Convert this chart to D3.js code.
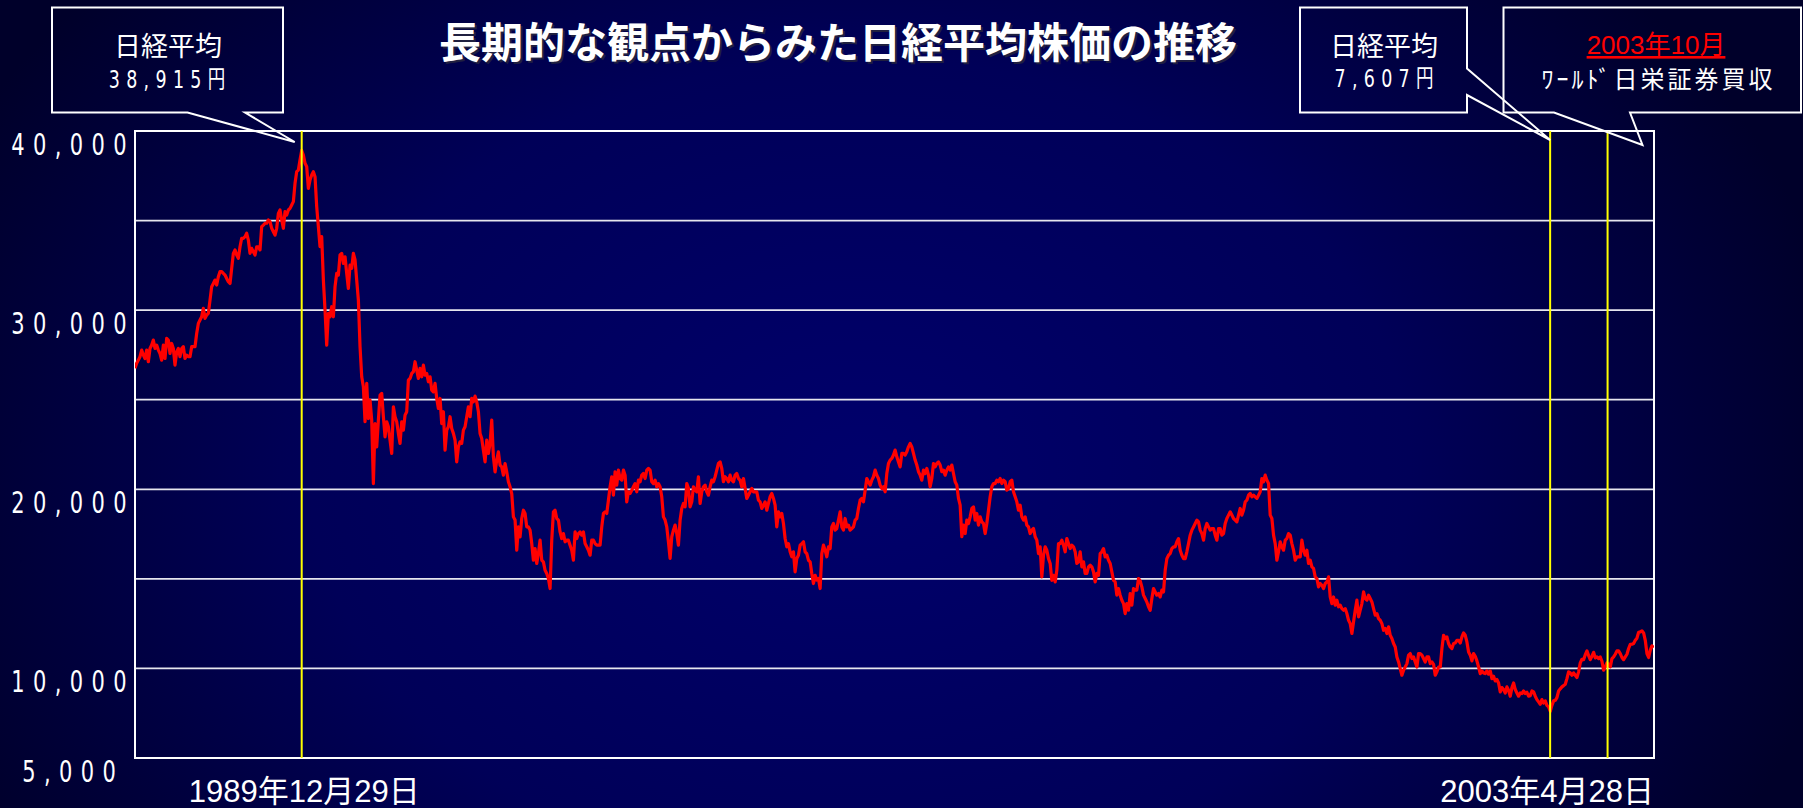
<!DOCTYPE html>
<html>
<head>
<meta charset="utf-8">
<script src="https://cdn.jsdelivr.net/npm/d3@7/dist/d3.min.js"></script>
<style>
html,body{margin:0;padding:0;background:#000030;overflow:hidden}
svg{display:block}
</style>
</head>
<body>
<svg id="chart" width="1803" height="808"></svg>
<script>
// ---------------- DATA ----------------
const chartTitle = "長期的な観点からみた日経平均株価の推移";
const startDate = "1988-03-19";   // first sample
const endDate = "2004-06-06";     // right edge of the plot
const stepDays = 6.5;             // spacing of the samples
const closes = [
26750,27030,27210,27400,27770,27490,27300,27770,27120,27860,28050,28330,27860,28050,27770,27580,27210,28050,27300,28420,
28330,27580,28140,27860,26930,27680,27860,27400,27860,27960,27300,27490,27400,27400,27960,27960,27960,28700,29260,29450,
29630,30100,29540,29730,29820,30560,31310,31490,31680,31400,31870,32150,32150,32050,31960,31770,31590,31490,32330,33170,
33360,33080,32890,33540,34010,34010,34100,34290,33910,33170,33450,33260,33080,33540,33540,33360,34660,34750,34850,34850,
35030,34940,34570,34380,34190,34570,35400,35590,35030,34570,35500,35310,35590,35680,35870,36060,37080,37730,37820,38400,
38915,38660,38200,38010,36800,37270,37540,37730,37450,35780,34660,33540,34100,31680,30000,28050,29820,29630,30190,29630,
31310,32050,31960,33080,33170,32610,32980,32050,31210,32520,32330,33170,32800,31680,30560,27960,26280,25720,23770,25910,
23950,24980,23860,
20320,23670,22370,23860,25260,25350,24050,22930,23770,23490,22740,22000,24600,24050,23770,23120,22560,23770,23300,24140,
24330,26090,26190,26470,26560,27120,26650,26190,26750,26280,26930,26370,26470,26000,26280,25540,25440,25910,25070,24510,
25070,23670,24330,22180,23300,23490,24050,23390,23120,22740,21530,22370,22650,22560,23300,23490,24050,24600,24050,25070,
24880,25200,24880,24330,23120,22840,22180,21530,22740,22000,22560,23860,21810,20970,21630,22090,21350,21250,20790,21440,
20970,20420,20140,19760,18460,18280,16600,17900,17340,18370,18830,18650,17900,17900,17720,16970,16040,16690,15860,16410,
17160,16040,15950,15480,15300,15020,14460,17160,18740,18830,18370,18280,17620,17250,17530,17070,17160,17160,16880,16600,
16040,17620,17250,17530,17620,17440,17620,16970,16790,16600,16320,17160,17160,16970,16880,16880,16880,17900,18650,18740,
18650,19390,
20140,20700,19670,20980,20230,21070,20600,20510,21070,20790,19300,19860,19770,19950,20140,20320,19860,20510,20420,20790,
20880,20600,21070,21160,21070,20420,20320,20510,20140,20320,20140,19580,18460,18280,17900,17070,16140,17350,17720,18000,
17530,16880,18280,18930,19210,19020,20320,20050,19020,19300,20140,19950,19860,20700,19210,19860,20140,20230,19860,19670,
20140,20510,20420,20700,21070,21440,21530,21160,20420,20700,20600,20420,20790,20510,20420,20790,20880,20600,20510,20140,
20600,20050,19490,19670,19860,20050,19860,19860,19860,19390,19300,18930,19110,19300,18830,19210,19580,19770,19490,19110,
17900,18740,18460,18650,18090,17250,16790,16970,16510,16230,16510,15390,16140,16320,16880,16970,17070,16510,16410,16040,
15950,15300,14740,15200,14930,15020,14460,16410,16880,16600,16230,16790,16690,17900,18090,17720,17810,18280,18740,17900,
17720,18370,17900,18000,
17720,17810,17900,18280,18370,18930,19390,19490,19300,19950,20600,20420,20230,20510,20700,21070,20790,20600,20230,20040,
20140,19860,20880,21440,21630,21720,21910,22190,21810,21530,21250,22000,22000,21910,22090,22370,22560,22370,22000,21630,
21350,20980,20790,20510,21070,20880,21160,20790,20140,20600,21440,21250,21440,21530,21350,20980,21070,20790,21070,21250,
21070,21350,20880,20420,20230,19490,19110,17350,18000,17530,18280,18090,18460,18930,19020,18280,18650,18000,18460,18180,
18090,17530,18090,18830,19580,20140,20320,20320,20510,20420,20600,20320,20510,20420,19950,20040,20420,20510,19860,19580,
19300,18830,19110,18460,18280,18460,18000,17900,17530,17720,17810,17350,17160,16410,16790,15110,16320,16790,16600,16130,
15860,14920,15200,14830,15480,16970,16970,17160,16880,16510,17250,16970,16690,16880,16790,16510,15860,15950,16510,15670,
15950,15300,15300,15670,
15760,15670,15390,14830,15300,15200,16410,16510,16690,16230,16320,16040,15860,15390,14920,14830,14090,14460,14090,13810,
13620,13060,13620,13250,14180,13530,14460,14370,14370,15020,14890,14550,14090,13900,13710,13440,13250,13900,14460,14270,
14090,14180,13990,14370,14270,15480,16130,16320,16410,16690,16790,16790,17070,17250,16600,16320,16130,16130,16510,16970,
17440,17720,17900,18090,18280,18180,17720,17530,17160,17810,18090,17900,17720,17810,17810,17440,17160,17810,17810,17440,
17530,18090,18370,18560,18740,18560,18370,18280,18180,18560,18930,18560,18830,19300,19390,19670,19770,19580,19670,19580,
19490,19670,19860,20600,20420,20790,20510,20320,18560,18370,17440,16970,16040,16510,17070,16790,16600,17160,17250,17530,
17440,16970,16600,16040,16230,16230,16230,17160,16600,16320,16600,15860,16040,15670,15580,15110,15020,14550,14740,14640,
14460,14740,14830,15110,
13990,13620,13990,13530,13810,13440,13530,13340,13250,13340,13060,12690,12500,11950,12600,13250,13810,12880,13250,13620,
14270,13900,13810,14090,13900,13710,13340,12970,13060,12780,12690,12500,12130,12230,11950,12320,11850,11670,11390,11200,
10640,10360,9990,9620,9900,10080,10270,10740,10830,10550,10640,10360,10080,10830,10830,10740,10550,10360,10640,10640,
10270,10360,10230,9620,9810,10080,10080,11110,11850,11670,11760,11390,11200,11110,11390,11420,11570,11570,11420,11760,
11980,11850,11480,10920,10740,10420,10830,10680,10420,10080,9710,9860,9750,9710,9860,9680,9860,9430,9560,9300,
9380,9190,8690,8930,8820,8630,8970,8780,8450,8930,9190,8820,8630,8450,8630,8600,8740,8600,8670,8450,
8480,8740,8690,8450,8260,8130,8000,8260,8070,8190,7940,7850,7607,7940,8190,8220,8370,8740,8860,8970,
9040,9120,9430,9810,9750,9620,9750,9620,9490,9810,10310,10510,10490,10770,10980,10720,10490,10680,10900,10590,
10640,10550,
10640,10400,9900,10090,10310,10230,10090,10550,10640,10790,10980,10980,10830,10610,10490,10640,10790,11110,11350,11350,
11390,11570,11690,12020,12040,12100,11980,11570,10830,10610,11020,11260,11160
];
const yDomain = [5000, 40000];
const yTickValues = [40000, 30000, 20000, 10000, 5000];
const gridValues = [10000, 15000, 20000, 25000, 30000, 35000];
const markerDates = ["1989-12-29", "2003-04-28", "2003-12-08"];
const bottomLabels = ["1989年12月29日", "2003年4月28日"];
const peakLines = ["日経平均", "38,915円"];
const lowLines = ["日経平均", "7,607円"];
const eventLines = ["2003年10月", "ﾜｰﾙﾄﾞ日栄証券買収"];

// ---------------- LAYOUT ----------------
const W = 1803, H = 808;
const plot = {left: 135, right: 1654, top: 131, bottom: 758};
const parse = d3.utcParse("%Y-%m-%d");
const t0 = parse(startDate);
const series = closes.map((v, i) => ({date: new Date(t0.getTime() + i * stepDays * 864e5), value: v}));

const x = d3.scaleUtc().domain([t0, parse(endDate)]).range([plot.left, plot.right]);
const y = d3.scaleLinear().domain(yDomain).range([plot.bottom, plot.top]);

const svg = d3.select("#chart");
const defs = svg.append("defs");
const grad = defs.append("radialGradient").attr("id", "bg")
  .attr("gradientUnits", "userSpaceOnUse")
  .attr("cx", 860).attr("cy", 470).attr("r", 1000)
  .attr("gradientTransform", "translate(860,470) scale(1,0.75) translate(-860,-470)");
grad.append("stop").attr("offset", "0%").attr("stop-color", "#00006c");
grad.append("stop").attr("offset", "55%").attr("stop-color", "#000058");
grad.append("stop").attr("offset", "100%").attr("stop-color", "#00002a");
defs.append("clipPath").attr("id", "clip").append("rect")
  .attr("x", plot.left).attr("y", plot.top)
  .attr("width", plot.right - plot.left).attr("height", plot.bottom - plot.top);

svg.append("rect").attr("width", W).attr("height", H).attr("fill", "url(#bg)");

// grid lines
svg.append("g").selectAll("line").data(gridValues).join("line")
  .attr("x1", plot.left).attr("x2", plot.right)
  .attr("y1", d => y(d)).attr("y2", d => y(d))
  .attr("stroke", "#e6e6ee").attr("stroke-width", 1.8);

// frame
svg.append("rect")
  .attr("x", plot.left).attr("y", plot.top)
  .attr("width", plot.right - plot.left).attr("height", plot.bottom - plot.top)
  .attr("fill", "none").attr("stroke", "#ffffff").attr("stroke-width", 2);

// price line
const line = d3.line().x(d => x(d.date)).y(d => y(d.value));
svg.append("path").datum(series)
  .attr("clip-path", "url(#clip)")
  .attr("d", line)
  .attr("fill", "none").attr("stroke", "#ff0000")
  .attr("stroke-width", 3.2).attr("stroke-linejoin", "round");

// yellow marker lines
svg.append("g").selectAll("line").data(markerDates).join("line")
  .attr("x1", d => x(parse(d))).attr("x2", d => x(parse(d)))
  .attr("y1", plot.top).attr("y2", plot.bottom)
  .attr("stroke", "#ffff00").attr("stroke-width", 2);

// condensed text helper
function ctext(text, px, py, o) {
  const sx = o.sx || 1, ls = o.ls || 0;
  const anchor = o.anchor || "middle";
  const shift = anchor === "middle" ? ls * sx / 2 : (anchor === "end" ? ls * sx : 0);
  return svg.append("text")
    .attr("transform", `translate(${px + shift},${py}) scale(${sx},1)`)
    .attr("text-anchor", anchor)
    .style("font-family", o.font)
    .style("font-size", o.size + "px")
    .style("font-weight", o.weight || "normal")
    .style("letter-spacing", ls + "px")
    .attr("fill", o.fill || "#ffffff")
    .text(text);
}
const tickFont = "'DejaVu Sans', 'Noto Sans CJK JP', sans-serif";
const cjkFont = "'Noto Sans CJK JP', sans-serif";
const latinFont = "'Liberation Sans', Arial, 'Noto Sans CJK JP', sans-serif";

// y tick labels
yTickValues.forEach(v => {
  ctext(d3.format(",")(v), 69, y(v) + 24, {font: tickFont, size: 30, sx: 0.7, ls: 12});
});

// bottom labels
ctext(bottomLabels[0], x(parse(markerDates[0])) + 2.5, 802, {font: latinFont, size: 31});
ctext(bottomLabels[1], plot.right, 802, {font: latinFont, size: 31, anchor: "end"});

// title
svg.append("text")
  .attr("x", 838).attr("y", 58)
  .attr("text-anchor", "middle")
  .style("font-family", cjkFont).style("font-size", "42px").style("font-weight", "bold")
  .attr("fill", "#202040").attr("transform", "translate(2,2)")
  .text(chartTitle);
svg.append("text")
  .attr("x", 838).attr("y", 58)
  .attr("text-anchor", "middle")
  .style("font-family", cjkFont).style("font-size", "42px").style("font-weight", "bold")
  .attr("fill", "#ffffff")
  .text(chartTitle);

// callout boxes
const boxStyle = sel => sel.attr("fill", "none").attr("stroke", "#ffffff").attr("stroke-width", 2).attr("stroke-linejoin", "miter");
const peakTip = [x(parse(markerDates[0])) - 7, plot.top + 11];
const lowTip = [x(parse(markerDates[1])), plot.top + 9];
const eventTip = [plot.right - 11.5, plot.top + 14];

svg.append("path").attr("d",
  `M52,7.5 H283 V112.5 H245 L${peakTip[0]},${peakTip[1]} L187.5,112.5 H52 Z`).call(boxStyle);
svg.append("path").attr("d",
  `M1300,7.5 H1467 V68.5 L${lowTip[0]},${lowTip[1]} L1467,95 V112.5 H1300 Z`).call(boxStyle);
svg.append("path").attr("d",
  `M1503.5,7.5 H1801 V112.5 H1630 L${eventTip[0]},${eventTip[1]} L1554,112.5 H1503.5 Z`).call(boxStyle);

ctext(peakLines[0], 168, 56, {font: cjkFont, size: 27});
ctext(peakLines[1], 167, 88, {font: tickFont, size: 25, sx: 0.7, ls: 9});
ctext(lowLines[0], 1384, 56, {font: cjkFont, size: 27});
ctext(lowLines[1], 1384, 87, {font: tickFont, size: 25, sx: 0.7, ls: 9});
ctext(eventLines[0], 1656, 54, {font: latinFont, size: 26, fill: "#ff0000"})
  .style("text-decoration", "underline");
ctext(eventLines[1], 1657, 88, {font: cjkFont, size: 24, ls: 3});
</script>
</body>
</html>
